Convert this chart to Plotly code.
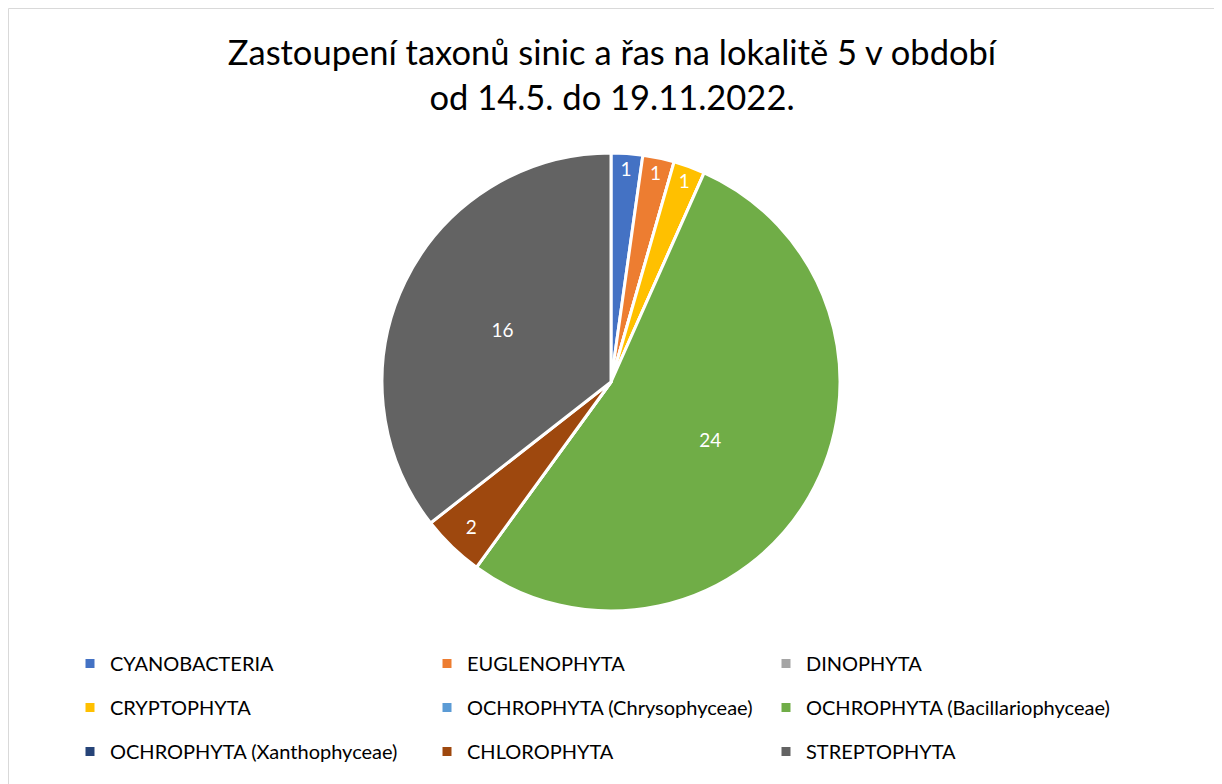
import plotly.graph_objects as go

labels = ["CYANOBACTERIA", "EUGLENOPHYTA", "DINOPHYTA", "CRYPTOPHYTA",
          "OCHROPHYTA (Chrysophyceae)", "OCHROPHYTA (Bacillariophyceae)",
          "OCHROPHYTA (Xanthophyceae)", "CHLOROPHYTA", "STREPTOPHYTA"]
values = [1, 1, 0, 1, 0, 24, 0, 2, 16]
colors = ["#4472C4", "#ED7D31", "#A5A5A5", "#FFC000", "#5B9BD5",
          "#70AD47", "#264478", "#9E480E", "#636363"]

OFF = 8                      # page body margin
W, H = 1222 - OFF, 784 - OFF
cx, cy, r = 611 - OFF, 382 - OFF, 229

fig = go.Figure(go.Pie(
    labels=labels, values=values, sort=False, direction="clockwise", rotation=0,
    marker=dict(colors=colors, line=dict(color="white", width=3)),
    text=[str(v) if v else "" for v in values], textinfo="text",
    textposition="inside", insidetextorientation="horizontal",
    textfont=dict(color="white", size=19, family="Lato"),
    domain=dict(x=[(cx - r) / W, (cx + r) / W], y=[1 - (cy + r) / H, 1 - (cy - r) / H]),
    showlegend=False,
))

# legend entries: three columns, rows in reading order
col_x = [88, 445, 784]
for i, (lab, col) in enumerate(zip(labels, colors)):
    leg = ["legend", "legend2", "legend3"][i % 3]
    fig.add_trace(go.Scatter(
        x=[None], y=[None], mode="markers", name=lab, legend=leg, legendgroup=lab,
        marker=dict(symbol="square", size=9, color=col), showlegend=True,
        hoverinfo="skip"))

leg_common = dict(orientation="v", yanchor="top", xanchor="left", tracegroupgap=15,
                  font=dict(size=20, family="Lato", color="#000000"),
                  bgcolor="rgba(0,0,0,0)", itemclick=False, itemdoubleclick=False,
                  itemwidth=30)
legends = {}
for k, name in enumerate(["legend", "legend2", "legend3"]):
    legends[name] = dict(leg_common, x=(col_x[k] - 18 - OFF) / W, y=1 - (644 - OFF) / H)

fig.update_layout(
    width=W, height=H, margin=dict(l=0, r=0, t=0, b=0),
    paper_bgcolor="white", plot_bgcolor="white",
    font=dict(family="Lato", color="#000000"),
    xaxis=dict(visible=False), yaxis=dict(visible=False),
    title=dict(text="Zastoupení taxonů sinic a řas na lokalitě 5 v období<br>od 14.5. do 19.11.2022.",
               x=(612 - OFF) / W, xanchor="center", y=1 - 57 / H, yanchor="middle",
               font=dict(size=34.5, family="Lato", color="#000000")),
    shapes=[dict(type="rect", xref="paper", yref="paper", x0=0.5 / W, x1=(1215 - OFF) / W,
                 y0=-0.02, y1=1 - 0.5 / H, line=dict(color="#D9D9D9", width=1))],
    **legends,
)

fig.write_html("out.html")
